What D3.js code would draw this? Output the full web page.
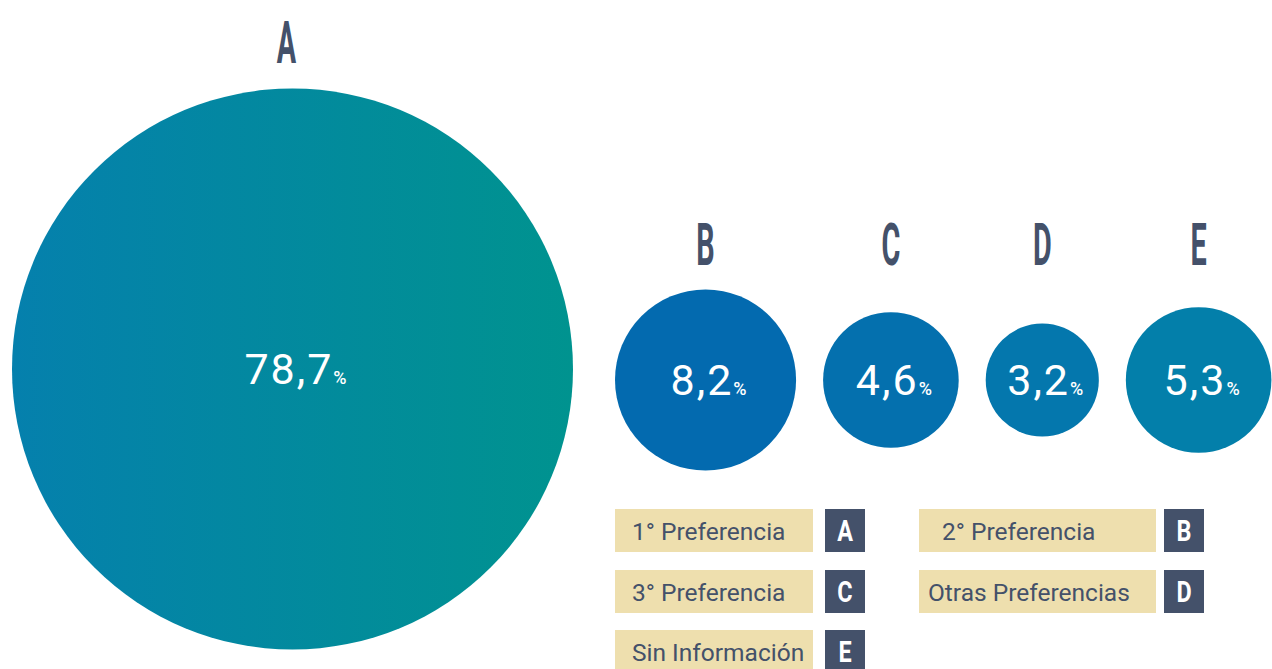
<!DOCTYPE html>
<html>
<head>
<meta charset="utf-8">
<script src="https://cdn.jsdelivr.net/npm/d3@7"></script>
<style>
  body { margin: 0; background: #fff; }
  text { font-family: Roboto, "Open Sans", sans-serif; }
</style>
</head>
<body>
<div id="chart"></div>
<script>
var letters = ["A", "B", "C", "D", "E"];
var values = [78.7, 8.2, 4.6, 3.2, 5.3];
var valueLabels = ["78,7", "8,2", "4,6", "3,2", "5,3"];
var legendLabels = ["1° Preferencia", "2° Preferencia", "3° Preferencia", "Otras Preferencias", "Sin Información"];
var bubbleColors = ["url(#gradA)", "#036aaf", "#0470ae", "#0477ad", "#037faa"];

const w = 1272;
const h = 669;
const dark = "#44516a";

const svg = d3.select("#chart")
    .append("svg")
    .attr("width", w)
    .attr("height", h);

// gradient for the big bubble
const grad = svg.append("defs").append("linearGradient")
    .attr("id", "gradA")
    .attr("x1", "0%").attr("x2", "100%")
    .attr("y1", "0%").attr("y2", "0%");
grad.append("stop").attr("offset", "0%").attr("stop-color", "#0580ad");
grad.append("stop").attr("offset", "100%").attr("stop-color", "#00938f");

// area proportional radius
const rScale = d3.scaleSqrt()
    .domain([0, d3.max(values)])
    .range([0, 280.5]);

// lay the bubbles out: big one alone, small ones side by side with a gap
var bubbles = [];
var gap = 27;
var xPos = 615;
values.forEach(function (v, i) {
    var r = rScale(v);
    if (i == 0) {
        bubbles.push({ letter: letters[i], value: v, label: valueLabels[i], r: r, cx: 292.5, cy: 369 });
    } else {
        bubbles.push({ letter: letters[i], value: v, label: valueLabels[i], r: r, cx: xPos + r, cy: 380 });
        xPos += 2 * r + gap;
    }
});
var smallTop = 380 - d3.max(bubbles.slice(1), (d) => d.r);

svg.selectAll("circle.bubble")
    .data(bubbles)
    .enter()
    .append("circle")
    .attr("class", "bubble")
    .attr("cx", (d) => d.cx)
    .attr("cy", (d) => d.cy)
    .attr("r", (d) => d.r)
    .attr("fill", (d, i) => bubbleColors[i]);

// value labels
var vl = svg.selectAll("text.value")
    .data(bubbles)
    .enter()
    .append("text")
    .attr("class", "value")
    .attr("x", (d) => d.cx + 3)
    .attr("y", (d) => d.cy + 15)
    .attr("text-anchor", "middle")
    .attr("fill", "#fff");
vl.append("tspan")
    .attr("font-size", 43)
    .attr("letter-spacing", 2)
    .text((d) => d.label);
vl.append("tspan")
    .attr("font-size", 18)
    .attr("font-weight", 500)
    .text("%");

// header letters, condensed
svg.selectAll("text.head")
    .data(bubbles)
    .enter()
    .append("text")
    .attr("class", "head")
    .attr("transform", (d, i) => {
        var y = i == 0 ? d.cy - d.r - 26 : smallTop - 24;
        return "translate(" + (d.cx - 6 * (i == 0)) + "," + y + ") scale(0.48,1)";
    })
    .attr("text-anchor", "middle")
    .attr("font-size", 60)
    .attr("font-weight", 700)
    .attr("fill", dark)
    .text((d) => d.letter);

// legend
var colBox = [615, 919];
var colBoxW = [198, 237];
var colSq = [825, 1164];
var colPad = [17, 9];
var legendIndent = [0, 14, 0, 0, 0];
var rowY = [509, 570, 630];
var boxH = 43;
var sqW = 40;

var items = legendLabels.map((l, i) => ({ label: l, letter: letters[i], col: i % 2, row: Math.floor(i / 2), idx: i }));

var lg = svg.selectAll("g.legend")
    .data(items)
    .enter()
    .append("g")
    .attr("class", "legend");

lg.append("rect")
    .attr("x", (d) => colBox[d.col])
    .attr("y", (d) => rowY[d.row])
    .attr("width", (d) => colBoxW[d.col])
    .attr("height", boxH)
    .attr("fill", "#eedfae");

lg.append("text")
    .attr("x", (d) => colBox[d.col] + colPad[d.col] + legendIndent[d.idx])
    .attr("y", (d) => rowY[d.row] + 31)
    .attr("font-size", 24.5)
    .attr("fill", dark)
    .text((d) => d.label);

lg.append("rect")
    .attr("x", (d) => colSq[d.col])
    .attr("y", (d) => rowY[d.row])
    .attr("width", sqW)
    .attr("height", boxH)
    .attr("fill", dark);

lg.append("text")
    .attr("transform", (d) => "translate(" + (colSq[d.col] + sqW / 2) + "," + (rowY[d.row] + 31.5) + ") scale(0.78,1)")
    .attr("text-anchor", "middle")
    .attr("font-size", 30)
    .attr("font-weight", 700)
    .attr("fill", "#fff")
    .text((d) => d.letter);
</script>
</body>
</html>
